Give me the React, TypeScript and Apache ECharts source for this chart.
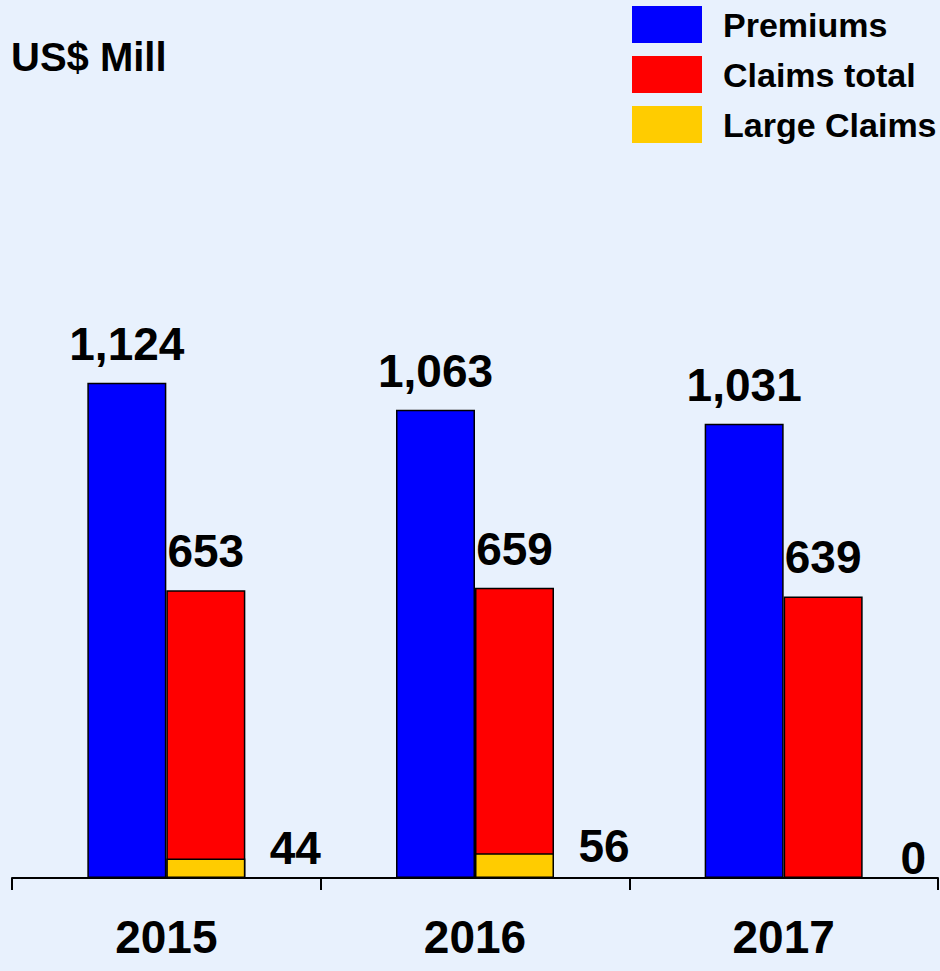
import React, { useEffect, useRef } from "react";
import * as echarts from "echarts";

const categories = ["2015", "2016", "2017"];
const premiums = [1124, 1063, 1031];
const claimsTotal = [653, 659, 639];
const largeClaims = [44, 56, 0];
const seriesNames = ["Premiums", "Claims total", "Large Claims"];

const FONT = "Liberation Sans, Arial, sans-serif";
const fmt = (v: number) => v.toLocaleString("en-US");

export default function App() {
  const ref = useRef<HTMLDivElement>(null);
  useEffect(() => {
    if (!ref.current) return;
    const chart = echarts.init(ref.current, null, { renderer: "svg" });
    const valueLabel = {
      show: true,
      position: "top" as const,
      distance: 16,
      fontFamily: FONT,
      fontWeight: "bold" as const,
      fontSize: 46,
      color: "#000",
      formatter: (p: any) => fmt(p.value),
    };
    chart.setOption({
      animation: false,
      backgroundColor: "#E8F1FD",
      title: {
        text: "US$ Mill",
        left: 11,
        top: 37,
        padding: 0,
        textStyle: { fontFamily: FONT, fontWeight: "bold", fontSize: 40, color: "#000" },
      },
      legend: {
        data: seriesNames,
        orient: "vertical",
        left: 632,
        top: 6,
        padding: 0,
        itemWidth: 70,
        itemHeight: 37,
        itemGap: 13,
        icon: "rect",
        itemStyle: { borderWidth: 0 },
        textStyle: {
          fontFamily: FONT,
          fontWeight: "bold",
          fontSize: 34,
          lineHeight: 37,
          color: "#000",
          padding: [0, 0, 0, 16],
        },
      },
      grid: { left: 12, right: 2, top: 85, bottom: 93 },
      xAxis: [
        {
          type: "category",
          data: categories,
          axisLine: { lineStyle: { color: "#000", width: 2 } },
          axisTick: { show: true, length: 12, lineStyle: { color: "#000", width: 2 } },
          axisLabel: {
            margin: 36,
            fontFamily: FONT,
            fontWeight: "bold",
            fontSize: 46,
            color: "#000",
          },
        },
        { type: "category", data: categories, show: false },
      ],
      yAxis: { type: "value", min: 0, max: 1800, show: false, splitLine: { show: false } },
      series: [
        {
          name: seriesNames[0],
          type: "bar",
          xAxisIndex: 0,
          data: premiums,
          barWidth: 79,
          barGap: "0%",
          itemStyle: { color: "#0000FF", borderColor: "#000", borderWidth: 1.5 },
          label: valueLabel,
        },
        {
          name: seriesNames[1],
          type: "bar",
          xAxisIndex: 0,
          data: claimsTotal,
          barWidth: 79,
          barGap: "0%",
          itemStyle: { color: "#FF0000", borderColor: "#000", borderWidth: 1.5 },
          label: valueLabel,
        },
        {
          name: "spacer",
          type: "bar",
          xAxisIndex: 1,
          data: categories.map(() => "-"),
          barWidth: 79,
          barGap: "0%",
        },
        {
          name: seriesNames[2],
          type: "bar",
          xAxisIndex: 1,
          data: largeClaims,
          barWidth: 79,
          barGap: "0%",
          itemStyle: { color: "#FFCC00", borderColor: "#000", borderWidth: 1.5 },
          label: {
            ...valueLabel,
            position: "right",
            distance: 0,
            align: "center",
            offset: [50, -20],
          },
        },
      ],
    });
    return () => chart.dispose();
  }, []);
  return (
    <div
      ref={ref}
      style={{ position: "fixed", left: 0, top: 0, width: 940, height: 971 }}
    />
  );
}
